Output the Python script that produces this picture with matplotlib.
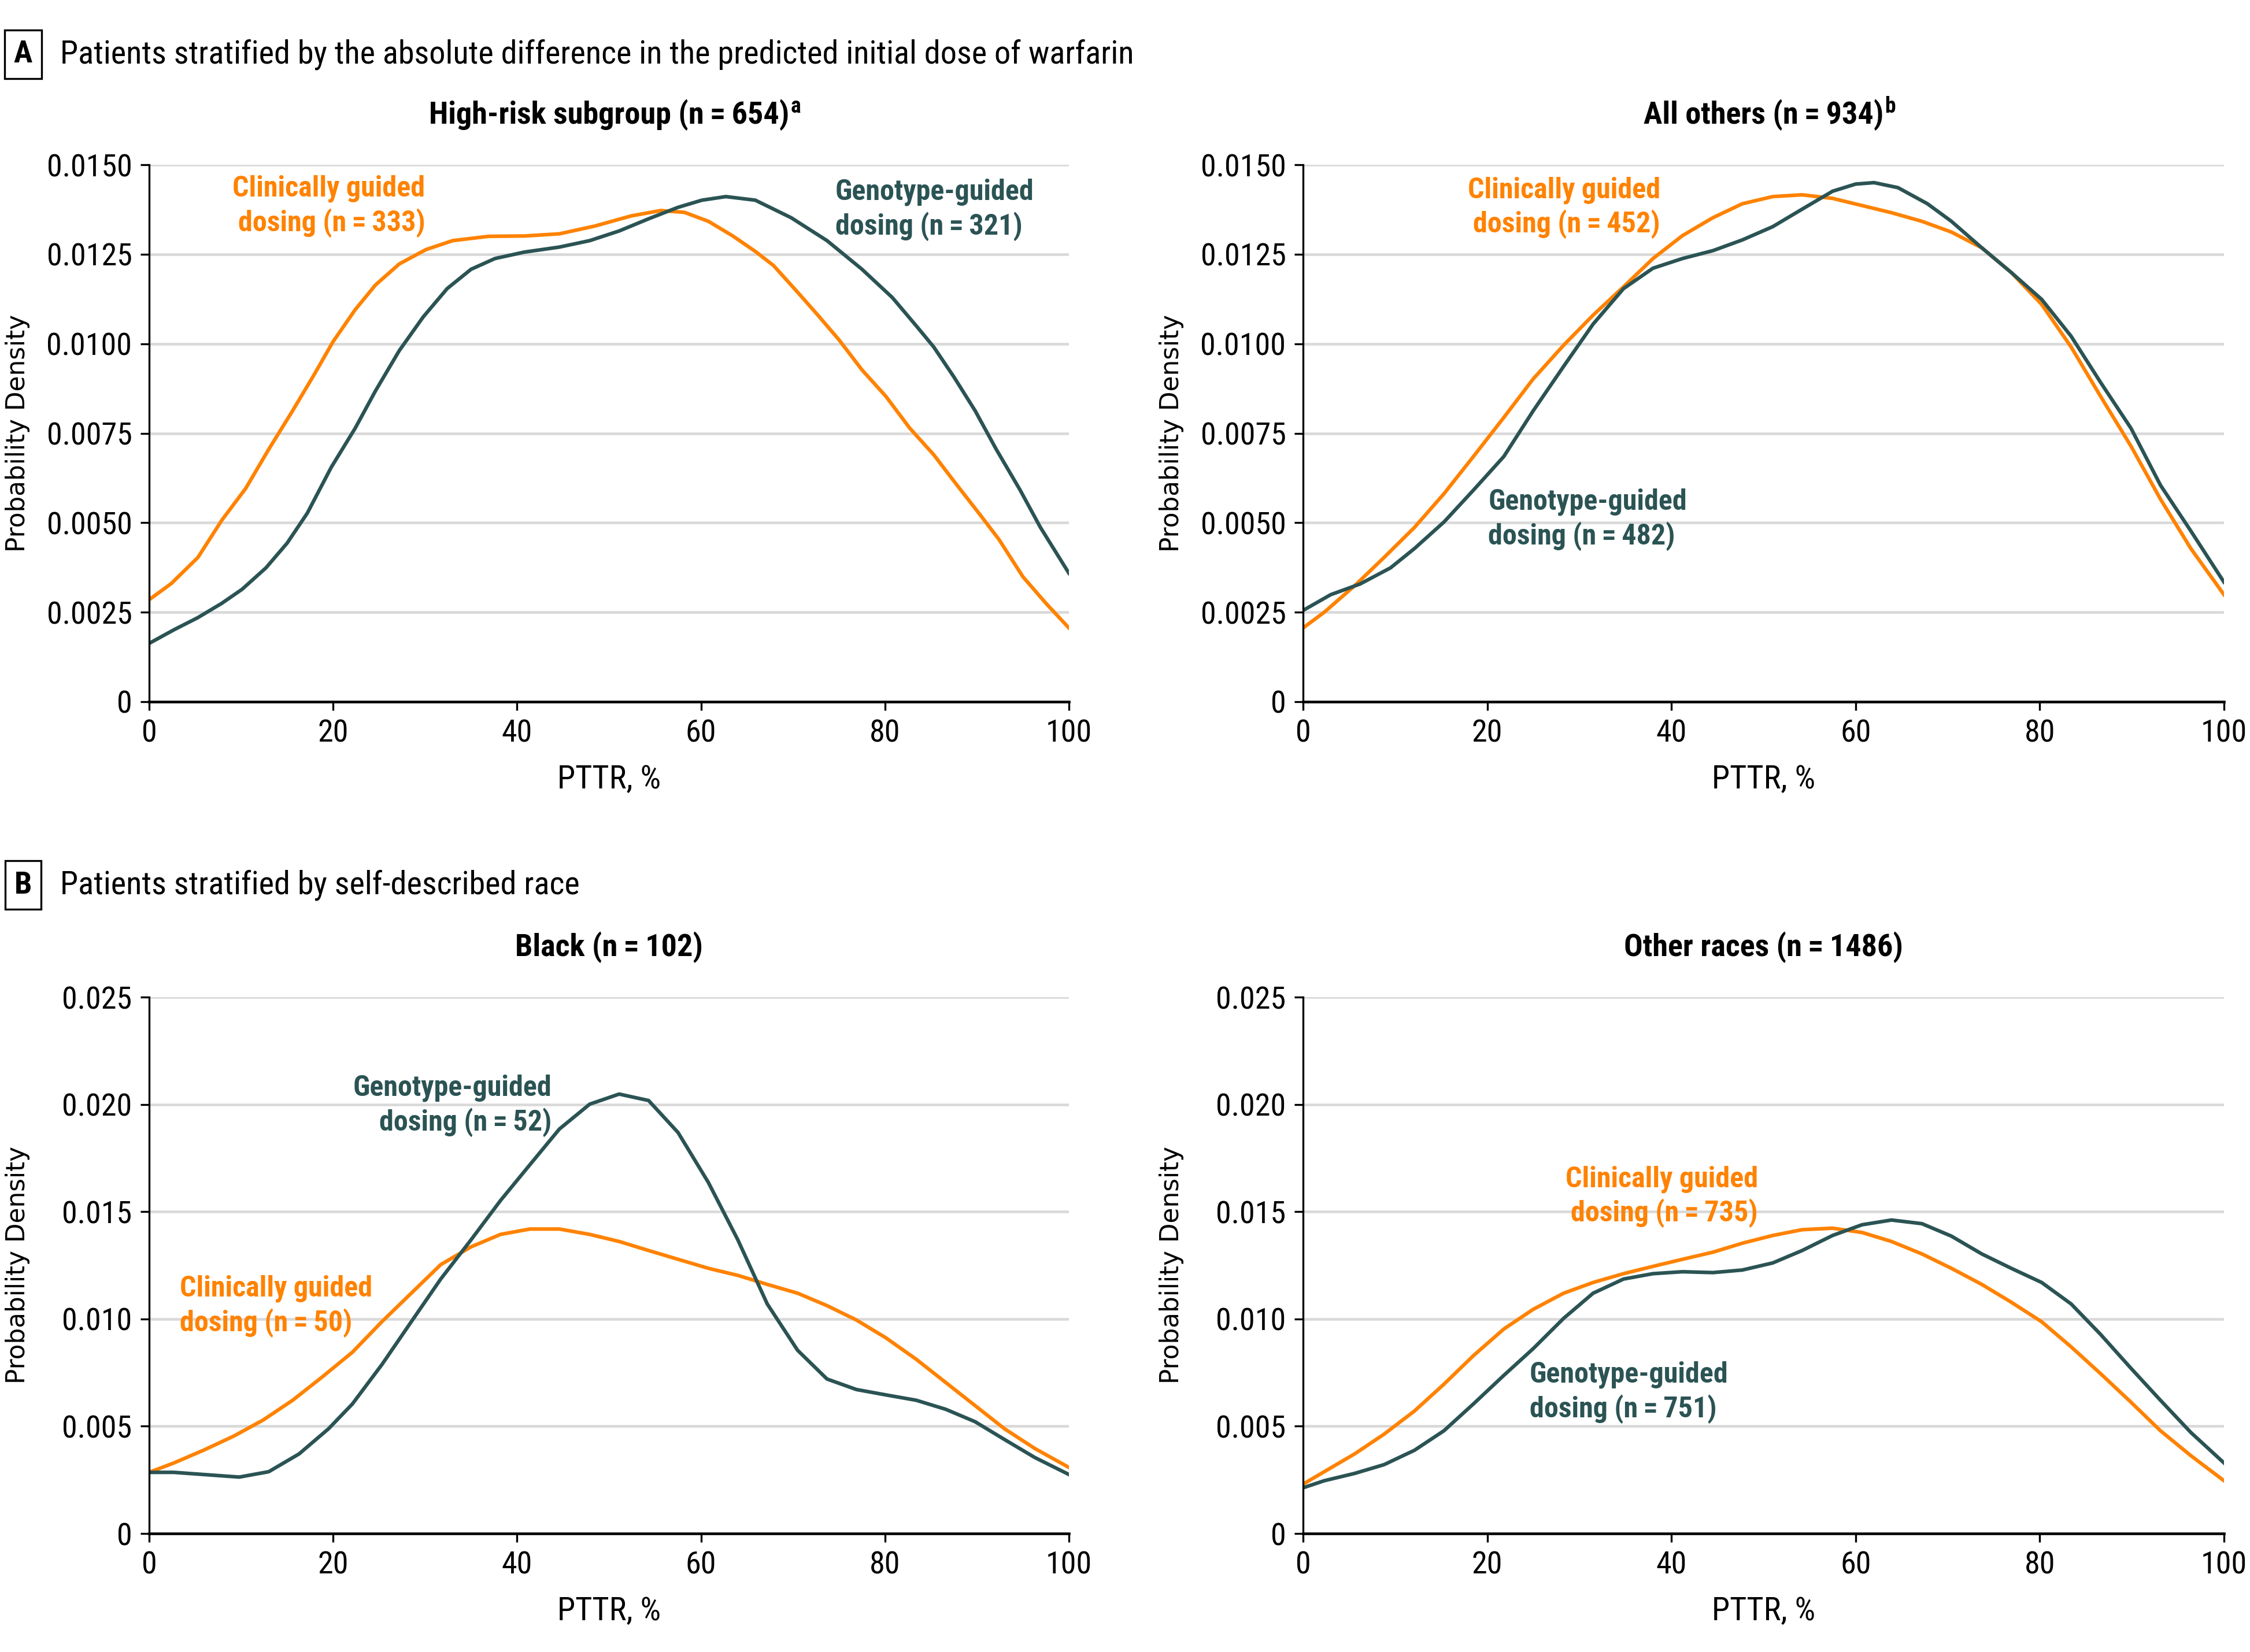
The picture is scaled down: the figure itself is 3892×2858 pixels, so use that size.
import numpy as np
import matplotlib.pyplot as plt
from matplotlib import font_manager as fm
from matplotlib.ticker import FixedLocator, FixedFormatter

# narrow sans if one is around, the original uses a condensed face
def pick_font():
    fonts = fm.fontManager.ttflist
    names = {f.name for f in fonts}
    for n in ['Liberation Sans Narrow', 'Roboto Condensed', 'Open Sans Condensed',
              'Noto Sans Condensed', 'DejaVu Sans Condensed', 'Arial Narrow']:
        if n in names:
            return n, 'normal'
    for want in ['condensed', 'semi-condensed', 'extra-condensed']:
        for fam in ['Noto Sans', 'Open Sans', 'Roboto', 'DejaVu Sans', 'Liberation Sans']:
            if any(f.name == fam and f.stretch == want for f in fonts):
                return fam, want
    return 'DejaVu Sans', 'normal'

FONT, STRETCH = pick_font()
plt.rcParams['font.family'] = [FONT, 'DejaVu Sans']
plt.rcParams['font.stretch'] = STRETCH

ORANGE = '#FF8200'
GREEN = '#2B5354'

# ---- panel A, high-risk subgroup ----
hr_clin_x = [0, 2.4, 5.3, 7.9, 10.5, 13, 15.6, 17.9, 20, 22.4, 24.6, 27.2, 30.1, 33, 36.9, 40.8,
             44.6, 48.5, 52.4, 55.6, 58.2, 60.8, 63.4, 65.9, 67.9, 70.5, 72.7, 75, 77.5, 80.1,
             82.7, 85.3, 87.5, 90.5, 92.4, 95, 97.5, 100]
hr_clin_y = [0.00285, 0.00330, 0.00403, 0.00507, 0.00596, 0.00705, 0.00813, 0.00912, 0.01006,
             0.01095, 0.01164, 0.01223, 0.01263, 0.01288, 0.01300, 0.01301, 0.01307, 0.01329,
             0.01357, 0.01372, 0.01367, 0.01342, 0.01302, 0.01258, 0.01218, 0.01144, 0.01080,
             0.01011, 0.00927, 0.00853, 0.00764, 0.00690, 0.00616, 0.00517, 0.00453, 0.00349,
             0.00275, 0.00206]
hr_geno_x = [0, 2.7, 5.3, 7.9, 10.1, 12.7, 15, 17.2, 19.8, 22.4, 24.6, 27.2, 29.8, 32.4, 35, 37.6,
             40.8, 44.6, 47.9, 51.1, 54.3, 57.5, 60.1, 62.7, 65.9, 69.8, 73.7, 77.5, 80.8, 83.4,
             85.3, 87.5, 89.8, 92.1, 94.7, 96.9, 100]
hr_geno_y = [0.00163, 0.00201, 0.00235, 0.00275, 0.00314, 0.00374, 0.00443, 0.00527, 0.00655,
             0.00764, 0.00868, 0.00981, 0.01075, 0.01154, 0.01208, 0.01238, 0.01256, 0.01270,
             0.01288, 0.01315, 0.01349, 0.01381, 0.01401, 0.01411, 0.01401, 0.01352, 0.01288,
             0.01208, 0.01129, 0.01050, 0.00991, 0.00907, 0.00813, 0.00705, 0.00591, 0.00487,
             0.00359]

# ---- panel A, all others ----
ao_x = [0, 2.3, 5.6, 8.8, 12.1, 15.3, 18.5, 21.8, 25, 28.3, 31.5, 34.8, 38, 41.2, 44.5, 47.7, 51,
        54.2, 57.5, 60.7, 63.9, 67.2, 70.4, 73.7, 76.9, 80.2, 83.4, 86.6, 89.9, 93.1, 96.4, 100]
ao_clin_y = [0.00206, 0.00250, 0.00324, 0.00403, 0.00487, 0.00581, 0.00685, 0.00794, 0.00902,
             0.00996, 0.01080, 0.01159, 0.01238, 0.01302, 0.01352, 0.01391, 0.01411, 0.01416,
             0.01406, 0.01386, 0.01366, 0.01342, 0.01312, 0.01268, 0.01199, 0.01110, 0.00991,
             0.00853, 0.00714, 0.00566, 0.00428, 0.00299]
ao_geno_x = [0, 3, 6.2, 9.5, 12.1, 15.3, 18.5, 21.8, 25, 28.3, 31.5, 34.8, 38, 41.2, 44.5, 47.7,
             51, 54.2, 57.5, 60, 62, 64.6, 67.8, 70.4, 73.7, 76.9, 80.2, 83.4, 86.6, 89.9, 93.1,
             96.4, 100]
ao_geno_y = [0.00255, 0.00299, 0.00329, 0.00374, 0.00428, 0.00502, 0.00591, 0.00685, 0.00813,
             0.00937, 0.01055, 0.01154, 0.01211, 0.01238, 0.01260, 0.01290, 0.01327, 0.01376,
             0.01426, 0.01446, 0.01450, 0.01436, 0.01391, 0.01342, 0.01268, 0.01199, 0.01124,
             0.01021, 0.00892, 0.00764, 0.00605, 0.00477, 0.00334]

# ---- panel B, Black ----
bl_x = [0, 2.7, 5.9, 9.2, 12.4, 15.6, 18.8, 22.1, 25.3, 28.5, 31.7, 35, 38.2, 41.4, 44.6, 47.9,
        51.1, 54.3, 57.5, 60.8, 64, 67.2, 70.5, 73.7, 76.9, 80.1, 83.4, 86.6, 89.8, 93, 96.3, 100]
bl_clin_y = [0.00285, 0.00329, 0.00388, 0.00454, 0.00529, 0.00621, 0.00729, 0.00845, 0.00987,
             0.01120, 0.01253, 0.01336, 0.01394, 0.01419, 0.01419, 0.01394, 0.01361, 0.01319,
             0.01278, 0.01236, 0.01203, 0.01161, 0.01120, 0.01062, 0.00995, 0.00912, 0.00812,
             0.00704, 0.00596, 0.00488, 0.00396, 0.00308]
bl_geno_x = [0, 2.7, 5.9, 9.8, 13, 16.3, 19.5, 22.1, 25.3, 28.5, 31.7, 35, 38.2, 41.4, 44.6, 47.9,
             51.1, 54.3, 57.5, 60.8, 64, 67.2, 70.5, 73.7, 76.9, 80.1, 83.4, 86.6, 89.8, 93, 96.3,
             100]
bl_geno_y = [0.00285, 0.00285, 0.00275, 0.00263, 0.00288, 0.00371, 0.00488, 0.00604, 0.00787,
             0.00987, 0.01186, 0.01369, 0.01552, 0.01719, 0.01885, 0.02001, 0.02048, 0.02018,
             0.01869, 0.01636, 0.01369, 0.01070, 0.00854, 0.00720, 0.00671, 0.00646, 0.00621,
             0.00579, 0.00521, 0.00438, 0.00354, 0.00275]

# ---- panel B, other races ----
ot_x = [0, 2.3, 5.6, 8.8, 12.1, 15.3, 18.5, 21.8, 25, 28.3, 31.5, 34.8, 38, 41.2, 44.5, 47.7, 51,
        54.2, 57.5, 60.7, 63.9, 67.2, 70.4, 73.7, 76.9, 80.2, 83.4, 86.6, 89.9, 93.1, 96.4, 100]
ot_clin_y = [0.00230, 0.00288, 0.00371, 0.00463, 0.00571, 0.00696, 0.00829, 0.00953, 0.01045,
             0.01120, 0.01170, 0.01211, 0.01245, 0.01278, 0.01311, 0.01353, 0.01389, 0.01416,
             0.01423, 0.01403, 0.01361, 0.01303, 0.01236, 0.01161, 0.01078, 0.00987, 0.00870,
             0.00745, 0.00612, 0.00479, 0.00363, 0.00246]
ot_geno_y = [0.00213, 0.00246, 0.00280, 0.00321, 0.00388, 0.00479, 0.00604, 0.00737, 0.00862,
             0.01003, 0.01120, 0.01186, 0.01211, 0.01220, 0.01216, 0.01228, 0.01261, 0.01319,
             0.01389, 0.01439, 0.01461, 0.01444, 0.01386, 0.01303, 0.01236, 0.01170, 0.01070,
             0.00928, 0.00770, 0.00621, 0.00471, 0.00329]

x_ticks = [0, 20, 40, 60, 80, 100]
a_yticks = [0, 0.0025, 0.005, 0.0075, 0.01, 0.0125, 0.015]
a_ylabels = ['0', '0.0025', '0.0050', '0.0075', '0.0100', '0.0125', '0.0150']
b_yticks = [0, 0.005, 0.01, 0.015, 0.02, 0.025]
b_ylabels = ['0', '0.005', '0.010', '0.015', '0.020', '0.025']

fig = plt.figure(figsize=(3892 / 300, 2858 / 300), dpi=300)

def setup(ax, yticks, ylabels, title, sup=None):
    ax.set_xlim(0, 100)
    ax.set_ylim(yticks[0], yticks[-1])
    ax.xaxis.set_major_locator(FixedLocator(x_ticks))
    ax.yaxis.set_major_locator(FixedLocator(yticks))
    ax.yaxis.set_major_formatter(FixedFormatter(ylabels))
    for s in ['top', 'right']:
        ax.spines[s].set_visible(False)
    ax.spines['left'].set_linewidth(0.8)
    ax.spines['bottom'].set_linewidth(1.1)
    ax.spines['bottom'].set_zorder(5)
    ax.tick_params(direction='out', length=3.6, width=0.8, labelsize=13, pad=3.5)
    ax.grid(axis='y', color='#D9D9D9', lw=1.1)
    ax.set_axisbelow(True)
    ax.text(0.5, -0.145, 'PTTR, %', transform=ax.transAxes, ha='center', va='center', fontsize=13.5)
    ax.text(-0.143, 0.5, 'Probability Density', transform=ax.transAxes, ha='center', va='center',
            rotation=90, fontsize=10.5, family='DejaVu Sans', stretch='normal')
    t = ax.text(0.5, 1.093, title, transform=ax.transAxes, ha='center', va='center',
                fontsize=13, fontweight='bold')
    if sup:
        ax.annotate(sup, xy=(1, 1), xycoords=t, xytext=(0.5, -7.5), textcoords='offset points',
                    ha='left', va='bottom', fontsize=9, fontweight='bold')

def note(ax, x, y, s, color, ha):
    ax.text(x, y, s, color=color, ha=ha, va='center', multialignment=ha, fontsize=12,
            fontweight='bold', linespacing=1.25)

W, H = 3892, 2858
def rect(l, r, t, b):
    return [l / W, 1 - b / H, (r - l) / W, (b - t) / H]

ax1 = fig.add_axes(rect(258, 1849, 285, 1214))
ax2 = fig.add_axes(rect(2254, 3847, 285, 1214))
ax3 = fig.add_axes(rect(258, 1849, 1725, 2653))
ax4 = fig.add_axes(rect(2254, 3847, 1725, 2653))

lw = 1.5
ax1.plot(hr_clin_x, hr_clin_y, color=ORANGE, lw=lw)
ax1.plot(hr_geno_x, hr_geno_y, color=GREEN, lw=lw)
setup(ax1, a_yticks, a_ylabels, 'High-risk subgroup (n\u2009=\u2009654)', 'a')
note(ax1, 30, 0.01384, 'Clinically guided\ndosing (n\u2009=\u2009333)', ORANGE, 'right')
note(ax1, 74.6, 0.01374, 'Genotype-guided\ndosing (n\u2009=\u2009321)', GREEN, 'left')

ax2.plot(ao_x, ao_clin_y, color=ORANGE, lw=lw)
ax2.plot(ao_geno_x, ao_geno_y, color=GREEN, lw=lw)
setup(ax2, a_yticks, a_ylabels, 'All others (n\u2009=\u2009934)', 'b')
note(ax2, 38.8, 0.0138, 'Clinically guided\ndosing (n\u2009=\u2009452)', ORANGE, 'right')
note(ax2, 20.1, 0.00509, 'Genotype-guided\ndosing (n\u2009=\u2009482)', GREEN, 'left')

ax3.plot(bl_x, bl_clin_y, color=ORANGE, lw=lw)
ax3.plot(bl_geno_x, bl_geno_y, color=GREEN, lw=lw)
setup(ax3, b_yticks, b_ylabels, 'Black (n\u2009=\u2009102)')
note(ax3, 43.8, 0.01995, 'Genotype-guided\ndosing (n\u2009=\u200952)', GREEN, 'right')
note(ax3, 3.3, 0.0106, 'Clinically guided\ndosing (n\u2009=\u200950)', ORANGE, 'left')

ax4.plot(ot_x, ot_clin_y, color=ORANGE, lw=lw)
ax4.plot(ot_x, ot_geno_y, color=GREEN, lw=lw)
setup(ax4, b_yticks, b_ylabels, 'Other races (n\u2009=\u20091486)')
note(ax4, 49.4, 0.0157, 'Clinically guided\ndosing (n\u2009=\u2009735)', ORANGE, 'right')
note(ax4, 24.6, 0.00658, 'Genotype-guided\ndosing (n\u2009=\u2009751)', GREEN, 'left')

# section headers
for lab, yc, txt in [('A', 94, 'Patients stratified by the absolute difference in the predicted initial dose of warfarin'),
                     ('B', 1531, 'Patients stratified by self-described race')]:
    fig.text(40 / W, 1 - yc / H, lab, ha='center', va='center', fontsize=13, fontweight='bold',
             bbox=dict(boxstyle='square,pad=0.3', fc='white', ec='black', lw=0.8))
    fig.text(104 / W, 1 - yc / H, txt, ha='left', va='center', fontsize=13.5)

fig.savefig('out.png', dpi=300, facecolor='white')
